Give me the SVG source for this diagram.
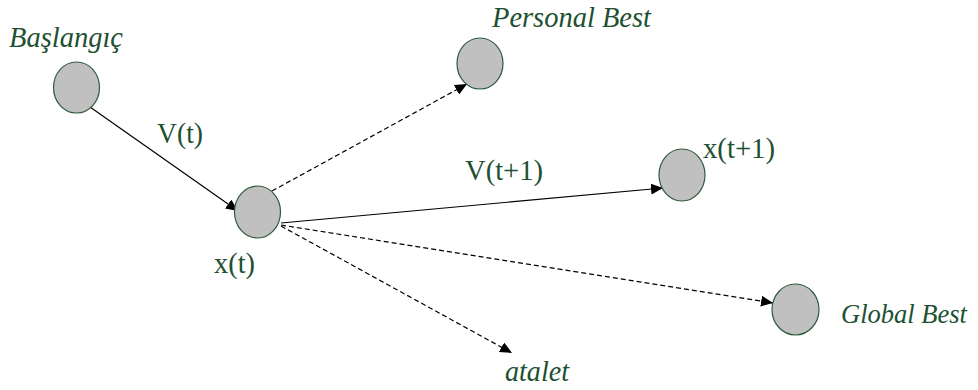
<svg xmlns="http://www.w3.org/2000/svg" width="978" height="390" viewBox="0 0 978 390">
<defs>
<marker id="ah" markerWidth="13" markerHeight="11" refX="12" refY="5.5" orient="auto" markerUnits="userSpaceOnUse">
<path d="M0,0 L12,5.5 L0,11 Z" fill="#000"/>
</marker>
<style>
.n{fill:#c0c0c0;stroke:#2e5a3c;stroke-width:1.2}
.c{stroke:#000;stroke-width:1.2;fill:none;marker-end:url(#ah)}
.d{stroke-dasharray:5 3}
</style>
</defs>
<rect width="978" height="390" fill="#fff"/>
<g id="connectors">
<line class="c" x1="90" y1="107" x2="238" y2="211"/>
<line class="c d" x1="272" y1="191" x2="467" y2="84"/>
<line class="c" x1="281" y1="223" x2="663" y2="188"/>
<line class="c d" x1="281" y1="225" x2="773" y2="303"/>
<line class="c d" x1="281" y1="226" x2="512" y2="353"/>
</g>
<g id="baslangic">
<ellipse class="n" cx="76.5" cy="87.5" rx="23" ry="25.5"/>
<text x="9" y="47" font-family="Liberation Serif, serif" font-size="30" font-style="italic" fill="#1e5032" textLength="114" lengthAdjust="spacingAndGlyphs">Başlangıç</text>
</g>
<g id="xt">
<ellipse class="n" cx="257.5" cy="212" rx="23" ry="26"/>
<text x="214" y="273" font-family="Liberation Serif, serif" font-size="30" fill="#1e5032" textLength="41" lengthAdjust="spacingAndGlyphs">x(t)</text>
</g>
<g id="personal-best">
<ellipse class="n" cx="480" cy="63.5" rx="23" ry="25.5"/>
<text x="492" y="27" font-family="Liberation Serif, serif" font-size="30" font-style="italic" fill="#1e5032" textLength="159" lengthAdjust="spacingAndGlyphs">Personal Best</text>
</g>
<g id="xt1">
<ellipse class="n" cx="682" cy="175" rx="23" ry="26"/>
<text x="703" y="158" font-family="Liberation Serif, serif" font-size="30" fill="#1e5032" textLength="72" lengthAdjust="spacingAndGlyphs">x(t+1)</text>
</g>
<g id="global-best">
<ellipse class="n" cx="795.5" cy="309.5" rx="23.5" ry="25.5"/>
<text x="841" y="323" font-family="Liberation Serif, serif" font-size="28" font-style="italic" fill="#1e5032" textLength="126" lengthAdjust="spacingAndGlyphs">Global Best</text>
</g>
<g id="atalet">
<text x="505" y="381" font-family="Liberation Serif, serif" font-size="30" font-style="italic" fill="#1e5032" textLength="64" lengthAdjust="spacingAndGlyphs">atalet</text>
</g>
<g id="labels">
<text x="157" y="143" font-family="Liberation Serif, serif" font-size="30" fill="#1e5032" textLength="46" lengthAdjust="spacingAndGlyphs">V(t)</text>
<text x="465" y="180" font-family="Liberation Serif, serif" font-size="30" fill="#1e5032" textLength="78" lengthAdjust="spacingAndGlyphs">V(t+1)</text>
</g>
</svg>
